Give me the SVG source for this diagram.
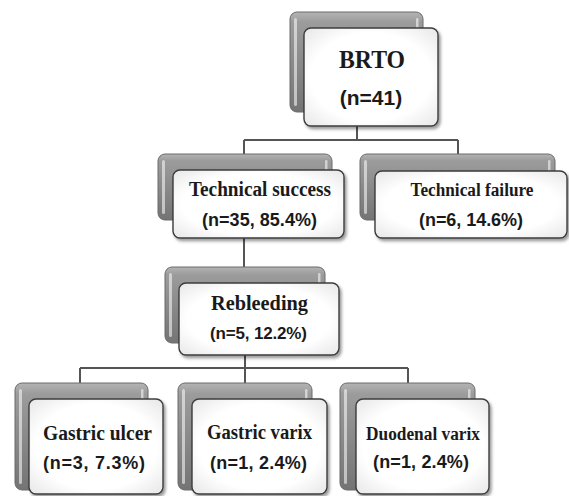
<svg xmlns="http://www.w3.org/2000/svg" width="569" height="496" viewBox="0 0 569 496">
  <defs>
    <linearGradient id="backGrad" x1="0" y1="0" x2="0" y2="1">
      <stop offset="0" stop-color="#b4b4b4"/>
      <stop offset="0.1" stop-color="#9c9c9c"/>
      <stop offset="0.5" stop-color="#8a8a8a"/>
      <stop offset="1" stop-color="#747474"/>
    </linearGradient>
    <radialGradient id="frontGrad" cx="0.5" cy="0.5" r="0.75">
      <stop offset="0.6" stop-color="#ffffff"/>
      <stop offset="1" stop-color="#e2e2e2"/>
    </radialGradient>
    <filter id="shadow" x="-10%" y="-10%" width="125%" height="130%">
      <feDropShadow dx="2" dy="2.5" stdDeviation="1.6" flood-color="#000" flood-opacity="0.4"/>
    </filter>
  </defs>
  <style>
    .back { fill: url(#backGrad); stroke: #6a6a6a; stroke-width: 1; }
    .hl { fill: #ffffff; opacity: 0.55; }
    .front { fill: url(#frontGrad); stroke: #3c3c3c; stroke-width: 1.4; filter: url(#shadow); }
    .name { font-family: "Liberation Serif", "DejaVu Serif", serif; font-weight: bold; fill: #1a1a1a; text-anchor: middle; }
    .count { font-family: "Liberation Sans", Arial, sans-serif; font-weight: bold; fill: #1a1a1a; text-anchor: middle; }
    .conn { fill: none; stroke: #555555; stroke-width: 2; }
  </style>
  <rect width="569" height="496" fill="#ffffff"/>

  <g id="connectors">
    <path class="conn" d="M357 126 V140 M244 140 H458 M244 140 V155 M458 140 V155"/>
    <path class="conn" d="M244 238 V268"/>
    <path class="conn" d="M245 355 V368 M80 368 H408 M80 368 V384 M245 368 V384 M408 368 V384"/>
  </g>

  <g id="node-brto">
    <rect class="back" x="290" y="12" width="133" height="100" rx="7"/>
    <rect class="hl" x="294" y="18" width="3" height="88" rx="1.5"/>
    <rect class="hl" x="416" y="18" width="2.5" height="20" rx="1.2"/>
    <rect class="front" x="304" y="28" width="134" height="98" rx="7"/>
    <text class="name" x="372" y="68" font-size="26" textLength="66" lengthAdjust="spacingAndGlyphs">BRTO</text>
    <text class="count" x="371" y="105" font-size="21">(n=41)</text>
  </g>

  <g id="node-technical-success">
    <rect class="back" x="158" y="154" width="174" height="66" rx="7"/>
    <rect class="hl" x="162" y="160" width="3" height="54" rx="1.5"/>
    <rect class="hl" x="325" y="160" width="2.5" height="12" rx="1.2"/>
    <rect class="front" x="173" y="170" width="171" height="68" rx="7"/>
    <text class="name" x="260" y="195.5" font-size="20" textLength="142" lengthAdjust="spacingAndGlyphs">Technical success</text>
    <text class="count" x="259.5" y="226" font-size="18" textLength="115">(n=35, 85.4%)</text>
  </g>

  <g id="node-technical-failure">
    <rect class="back" x="360" y="154" width="195" height="66" rx="7"/>
    <rect class="hl" x="364" y="160" width="3" height="54" rx="1.5"/>
    <rect class="hl" x="548" y="160" width="2.5" height="12" rx="1.2"/>
    <rect class="front" x="375" y="171" width="192" height="67" rx="7"/>
    <text class="name" x="472" y="195.5" font-size="18" textLength="123" lengthAdjust="spacingAndGlyphs">Technical failure</text>
    <text class="count" x="471" y="226" font-size="18" textLength="104">(n=6, 14.6%)</text>
  </g>

  <g id="node-rebleeding">
    <rect class="back" x="165" y="267" width="160" height="76" rx="7"/>
    <rect class="hl" x="169" y="273" width="3" height="64" rx="1.5"/>
    <rect class="hl" x="318" y="273" width="2.5" height="12" rx="1.2"/>
    <rect class="front" x="179" y="283" width="160" height="72" rx="7"/>
    <text class="name" x="259.5" y="310" font-size="20" textLength="97" lengthAdjust="spacingAndGlyphs">Rebleeding</text>
    <text class="count" x="258.5" y="339" font-size="17" textLength="97">(n=5, 12.2%)</text>
  </g>

  <g id="node-gastric-ulcer">
    <rect class="back" x="15" y="383" width="133" height="107" rx="7"/>
    <rect class="hl" x="19" y="389" width="3" height="95" rx="1.5"/>
    <rect class="hl" x="141" y="389" width="2.5" height="12" rx="1.2"/>
    <rect class="front" x="29" y="399" width="134" height="95" rx="7"/>
    <text class="name" x="97.5" y="440" font-size="20" textLength="109" lengthAdjust="spacingAndGlyphs">Gastric ulcer</text>
    <text class="count" x="94" y="469" font-size="18" textLength="102">(n=3, 7.3%)</text>
  </g>

  <g id="node-gastric-varix">
    <rect class="back" x="178" y="383" width="134" height="107" rx="7"/>
    <rect class="hl" x="182" y="389" width="3" height="95" rx="1.5"/>
    <rect class="hl" x="305" y="389" width="2.5" height="12" rx="1.2"/>
    <rect class="front" x="192" y="399" width="135" height="95" rx="7"/>
    <text class="name" x="259.5" y="439" font-size="20" textLength="105" lengthAdjust="spacingAndGlyphs">Gastric varix</text>
    <text class="count" x="258.5" y="469" font-size="18" textLength="97">(n=1, 2.4%)</text>
  </g>

  <g id="node-duodenal-varix">
    <rect class="back" x="340" y="383" width="135" height="107" rx="7"/>
    <rect class="hl" x="344" y="389" width="3" height="95" rx="1.5"/>
    <rect class="hl" x="468" y="389" width="2.5" height="12" rx="1.2"/>
    <rect class="front" x="356" y="399" width="133" height="95" rx="7"/>
    <text class="name" x="423" y="440" font-size="18.5" textLength="114" lengthAdjust="spacingAndGlyphs">Duodenal varix</text>
    <text class="count" x="421" y="468" font-size="18" textLength="96">(n=1, 2.4%)</text>
  </g>
</svg>
